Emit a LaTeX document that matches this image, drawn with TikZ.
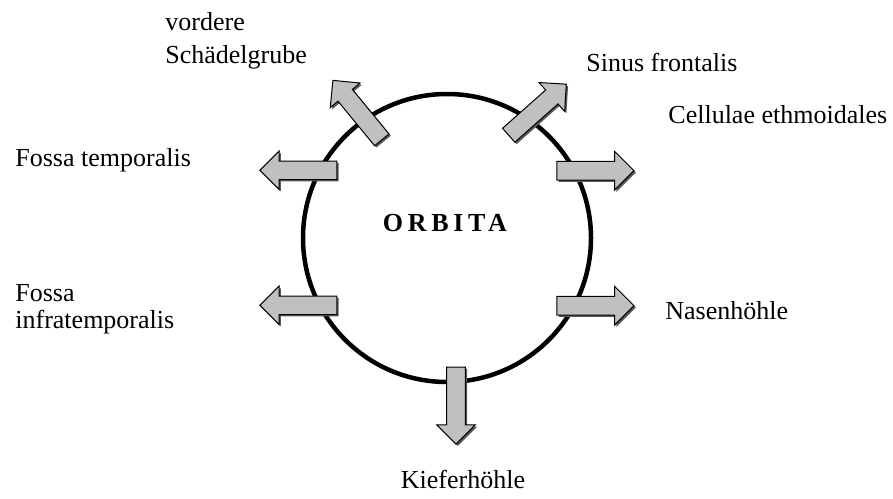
\documentclass[tikz,border=0pt]{standalone}
\usepackage{fontspec}
\setmainfont{Liberation Serif}
\usepackage{tikz}
\usetikzlibrary{positioning,shapes.arrows,shadows}
\definecolor{arrowgray}{RGB}{192,192,192}

\begin{document}
\begin{tikzpicture}[x=0.5pt,y=-0.5pt,
labelnode/.style={inner sep=0pt, anchor=base west, align=left, font=\fontsize{13}{13.3}\selectfont},
outarrow/.style={single arrow, draw=black, line width=0.5pt, fill=arrowgray, inner xsep=0pt, inner ysep=4.4pt,
  single arrow head extend=5pt, minimum height=38.5pt,
  drop shadow={shadow xshift=0.9pt, shadow yshift=-0.9pt, fill=black!65, opacity=1}},
]
\useasboundingbox (0,0) rectangle (893,498);

%Circle
\node[circle, draw=black, line width=2.25pt, minimum size=144pt, inner sep=0pt] (orbitring) at (447,238) {};
\node[font=\fontsize{13}{13.5}\selectfont\bfseries\addfontfeature{LetterSpace=18}, anchor=base, inner sep=0pt] (orbita) at (445,231.5) {ORBITA};

%Arrows
\node[outarrow, rotate=180]   (toFossaTemp)  at (303,170.3) {};
\node[outarrow, rotate=180]   (toFossaInfra) at (303,305.3) {};
\node[outarrow]               (toEthmoid)    at (590.8,170.7) {};
\node[outarrow]               (toNase)       at (590.8,305.7) {};
\node[outarrow, rotate=-90]   (toKiefer)     at (456,401)     {};
\node[outarrow, rotate=129.4] (toGrube)      at (360.3,113.7) {};
\node[outarrow, rotate=41.6]  (toSinus)      at (534,112.8)   {};

%Labels (last baseline for two-line labels)
\node[labelnode, font=\fontsize{13}{16.5}\selectfont] (grube) at (165,63.5) {vordere\\Schädelgrube};
\node[labelnode] (sinus)   at (586,71)    {Sinus frontalis};
\node[labelnode] (ethmoid) at (668,123.5) {Cellulae ethmoidales};
\node[labelnode] (fossatemp)  at (15,166.7) {Fossa temporalis};
\node[labelnode] (fossainfra) at (15,328.3) {Fossa\\infratemporalis};
\node[labelnode] (nase)    at (665,319.3) {Nasenhöhle};
\node[labelnode, anchor=base] (kiefer) at (463,488.3) {Kieferhöhle};
\end{tikzpicture}
\end{document}
